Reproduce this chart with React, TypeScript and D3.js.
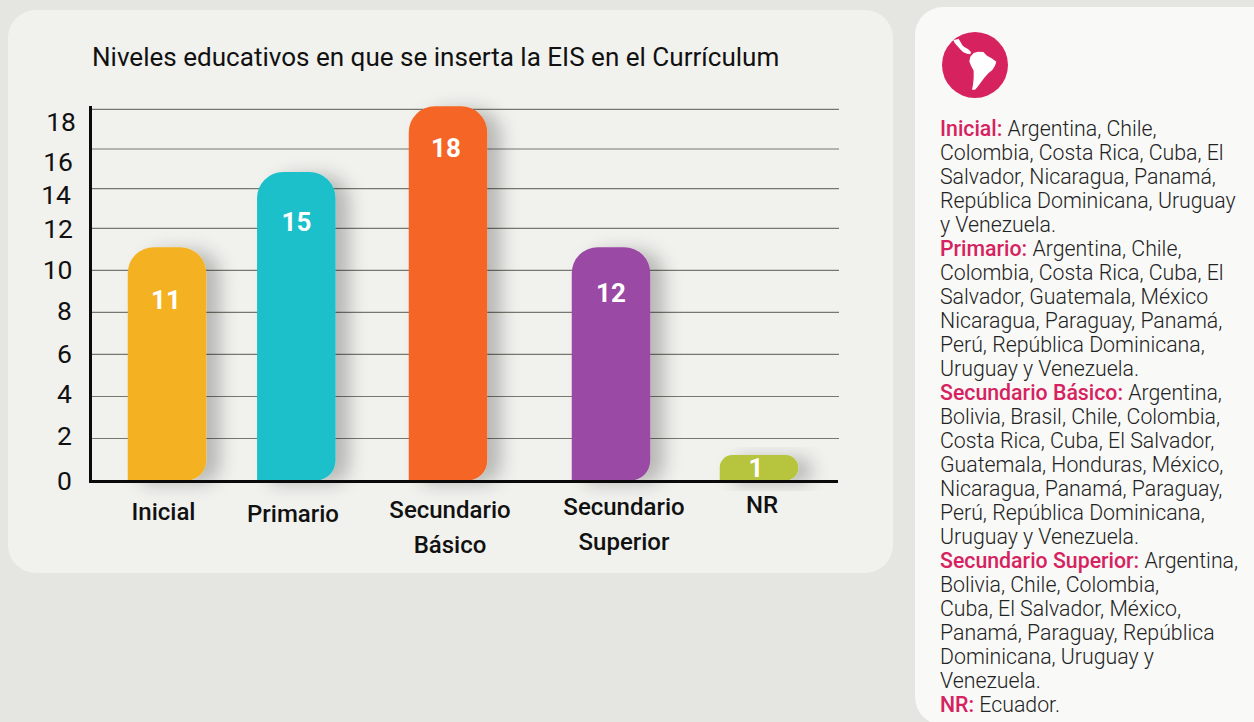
import React from "react";
import * as d3 from "d3";

// ---- data ----
const categories = ["Inicial", "Primario", "Secundario Básico", "Secundario Superior", "NR"];
const valueLabels = ["11", "15", "18", "12", "1"];
// The drawn height of each bar, read against the axis (the original's bars do not follow their labels exactly).
const barLevels = [11.1, 14.84, 18.15, 11.1, 1.23];
const barColors = ["#f4b223", "#1dc0ca", "#f56627", "#9a4aa4", "#b7c43c"];
const yTicks = [0, 2, 4, 6, 8, 10, 12, 14, 16, 18];
const xLabelLines = [["Inicial"], ["Primario"], ["Secundario", "Básico"], ["Secundario", "Superior"], ["NR"]];

const legendLines: [string, string][] = [
  ["Inicial:", " Argentina, Chile,"],
  ["", "Colombia, Costa Rica, Cuba, El"],
  ["", "Salvador, Nicaragua, Panamá,"],
  ["", "República Dominicana, Uruguay"],
  ["", "y Venezuela."],
  ["Primario:", " Argentina, Chile,"],
  ["", "Colombia, Costa Rica, Cuba, El"],
  ["", "Salvador, Guatemala, México"],
  ["", "Nicaragua, Paraguay, Panamá,"],
  ["", "Perú, República Dominicana,"],
  ["", "Uruguay y Venezuela."],
  ["Secundario Básico:", " Argentina,"],
  ["", "Bolivia, Brasil, Chile, Colombia,"],
  ["", "Costa Rica, Cuba, El Salvador,"],
  ["", "Guatemala, Honduras, México,"],
  ["", "Nicaragua, Panamá, Paraguay,"],
  ["", "Perú, República Dominicana,"],
  ["", "Uruguay y Venezuela."],
  ["Secundario Superior:", " Argentina,"],
  ["", "Bolivia, Chile, Colombia,"],
  ["", "Cuba, El Salvador, México,"],
  ["", "Panamá, Paraguay, República"],
  ["", "Dominicana, Uruguay y"],
  ["", "Venezuela."],
  ["NR:", " Ecuador."],
];

// ---- layout ----
const tickY = [481.5, 438.5, 396.5, 354.3, 312.3, 270.3, 228.3, 188.7, 149, 109.3];
const tickLabelX = [72, 72, 72, 72, 72, 72.5, 73, 71, 73, 76];
const tickLabelBase = [490, 445, 403, 362.7, 320, 279, 238, 204, 171, 131];
const barCenters = [167, 296.3, 448, 611, 759];
const barWidth = 78.5;
const valueLabelPos = [[166, 309], [296.5, 231], [446, 157], [611, 302], [756, 477]];
const xLabelPos = [[163.5, 520], [293, 522], [450, 517.5], [624, 515], [762, 513]];
const xLabelLeading = 35;
const FONT = "Roboto, sans-serif";

const mapPaths = [
  "M46,36 L62,33 L69,44 L73,52 L80,58 L90,63 L99,72 L97,79 L87,77 L76,73 L68,65 L58,54 L50,45 Z",
  "M97,86 L107,75 L120,71 L136,72 L147,83 L161,91 L175,101 L171,113 L163,126 L151,136 L139,149 L129,163 L119,176 L111,185 L102,185 L105,170 L107,150 L107,128 L99,113 L94,100 Z",
];

function barPath(x0: number, x1: number, top: number, bottom: number, r: number, rb: number) {
  const p = d3.path();
  p.moveTo(x0, bottom);
  p.lineTo(x0, top + r);
  p.arcTo(x0, top, x0 + r, top, r);
  p.lineTo(x1 - r, top);
  p.arcTo(x1, top, x1, top + r, r);
  p.lineTo(x1, bottom - rb);
  p.arcTo(x1, bottom, x1 - rb, bottom, rb);
  p.closePath();
  return p.toString();
}

export default function App() {
  const y = d3.scaleLinear().domain(yTicks).range(tickY);
  const x = d3.scaleOrdinal<string, number>().domain(categories).range(barCenters);
  const base = y(0);
  return (
    <svg
      width={1254}
      height={722}
      viewBox="0 0 1254 722"
      style={{ position: "absolute", left: 0, top: 0, display: "block", fontFamily: FONT }}
    >
      <defs>
        <filter id="barShadow" x="-60%" y="-30%" width="240%" height="170%">
          <feDropShadow dx={14} dy={3} stdDeviation={9} floodColor="#000" floodOpacity={0.24} />
        </filter>
      </defs>
      <rect width={1254} height={722} fill="#e5e6e1" />
      <rect x={8} y={10} width={885} height={563} rx={28} fill="#f1f2ee" />
      <rect x={915} y={7} width={370} height={718} rx={28} fill="#f9f9f7" />

      <text x={92} y={66} fontSize={26.05} fill="#111">
        Niveles educativos en que se inserta la EIS en el Currículum
      </text>

      {yTicks.slice(1).map((t) => (
        <line key={t} x1={91} x2={839} y1={y(t)} y2={y(t)} stroke="#77776f" strokeWidth={1.2} />
      ))}

      {categories.map((c, i) => {
        const cx = x(c);
        const top = y(barLevels[i]);
        const h = base - 1.5 - top;
        const r = Math.min(26, h / 2);
        return (
          <path
            key={c}
            d={barPath(cx - barWidth / 2, cx + barWidth / 2, top, base - 1, r, Math.min(20, h / 2))}
            fill={barColors[i]}
            filter="url(#barShadow)"
          />
        );
      })}

      <line x1={90.5} x2={90.5} y1={106} y2={483} stroke="#0a0a0a" strokeWidth={3} />
      <line x1={89} x2={838} y1={base} y2={base} stroke="#0a0a0a" strokeWidth={3} />

      {yTicks.map((t, i) => (
        <text key={t} x={tickLabelX[i]} y={tickLabelBase[i]} textAnchor="end" fontSize={26.5} fill="#111">
          {t}
        </text>
      ))}

      {valueLabels.map((v, i) => (
        <text
          key={i}
          x={valueLabelPos[i][0]}
          y={valueLabelPos[i][1]}
          textAnchor="middle"
          fontSize={26}
          fontWeight={700}
          fill="#fff"
        >
          {v}
        </text>
      ))}

      {xLabelLines.map((lines, i) =>
        lines.map((line, j) => (
          <text
            key={line + i}
            x={xLabelPos[i][0]}
            y={xLabelPos[i][1] + j * xLabelLeading}
            textAnchor="middle"
            fontSize={24}
            fontWeight={500}
            fill="#111"
          >
            {line}
          </text>
        ))
      )}

      <circle cx={975} cy={65} r={33} fill="#d6225f" />
      <g transform="translate(938,28) scale(0.3333)">
        {mapPaths.map((d, i) => (
          <path key={i} d={d} fill="#fff" />
        ))}
      </g>

      {legendLines.map(([head, rest], i) => (
        <text key={i} x={940} y={135.7 + i * 24.03} fontSize={21.3} fontWeight={300} fill="#222" xmlSpace="preserve">
          {head && (
            <tspan fontWeight={500} fill="#d6225f">
              {head}
            </tspan>
          )}
          {rest}
        </text>
      ))}
    </svg>
  );
}
